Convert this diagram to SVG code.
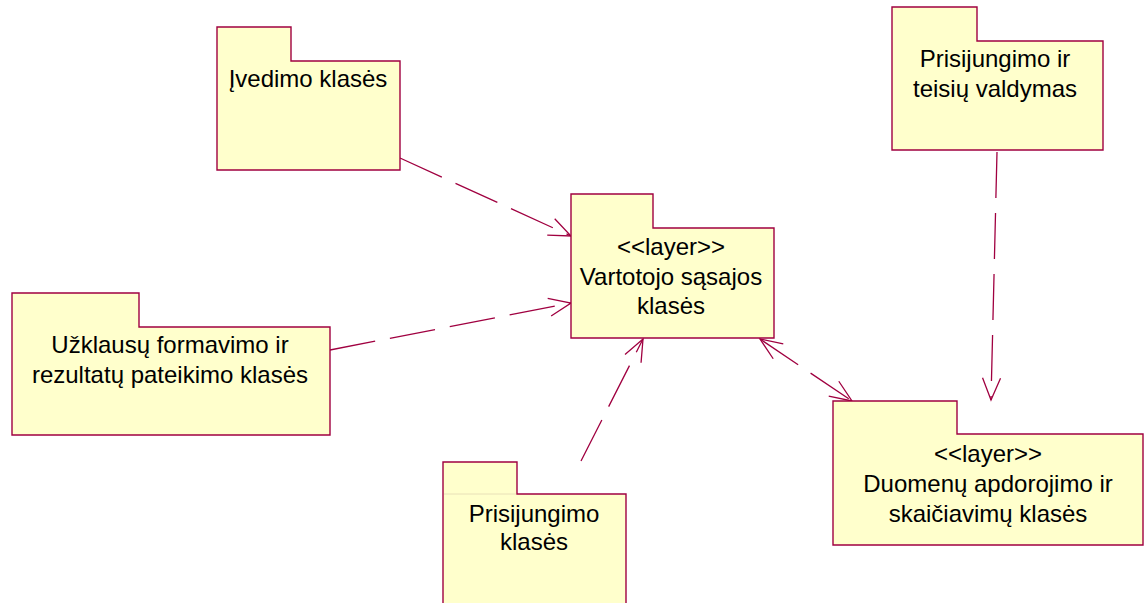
<svg xmlns="http://www.w3.org/2000/svg" width="1146" height="603" viewBox="0 0 1146 603">
  <style>
    .pkg { fill: #FFFFCC; stroke: #A00040; stroke-width: 1.4; }
    .tabline { stroke: #E8E0B8; stroke-width: 1; }
    .lbl { font-family: "Liberation Sans", Arial, sans-serif; font-size: 24px; fill: #000; text-anchor: middle; }
    .dep { fill: none; stroke: #A00040; stroke-width: 1.3; stroke-dasharray: 46 15; }
  </style>
  <defs>
    <marker id="open" viewBox="-24 -12 26 24" refX="0" refY="0" markerWidth="26" markerHeight="24" markerUnits="userSpaceOnUse" orient="auto-start-reverse">
      <path d="M-22,-9 L0,0 L-22,9" fill="none" stroke="#A00040" stroke-width="1.3" stroke-dasharray="none"/>
    </marker>
  </defs>

  <rect width="1146" height="603" fill="#FFFFFF"/>

  <!-- dependency connectors -->
  <g id="connectors">
    <line class="dep" x1="400" y1="158" x2="571" y2="236" marker-end="url(#open)"/>
    <line class="dep" x1="330" y1="350" x2="571" y2="303" marker-end="url(#open)"/>
    <line class="dep" x1="581" y1="461" x2="643" y2="339" marker-end="url(#open)"/>
    <line class="dep" x1="760" y1="339" x2="852" y2="401" marker-start="url(#open)" marker-end="url(#open)"/>
    <line class="dep" x1="997" y1="152" x2="991" y2="400" marker-end="url(#open)"/>
  </g>

  <!-- packages -->
  <g id="ivedimo">
    <path class="pkg" d="M217,27 H291 V61 H400 V170 H217 Z"/>
    <text class="lbl" x="308" y="87">Įvedimo klasės</text>
  </g>

  <g id="vartotojo">
    <path class="pkg" d="M571,194 H653 V228 H774 V338 H571 Z"/>
    <text class="lbl" x="671" y="255">&lt;&lt;layer&gt;&gt;</text>
    <text class="lbl" x="671" y="285">Vartotojo sąsajos</text>
    <text class="lbl" x="671" y="314">klasės</text>
  </g>

  <g id="duomenu">
    <path class="pkg" d="M833,401 H957 V434 H1143 V545 H833 Z"/>
    <text class="lbl" x="988" y="462">&lt;&lt;layer&gt;&gt;</text>
    <text class="lbl" x="988" y="492">Duomenų apdorojimo ir</text>
    <text class="lbl" x="988" y="522">skaičiavimų klasės</text>
  </g>

  <g id="uzklausu">
    <path class="pkg" d="M12,293 H139 V327 H330 V435 H12 Z"/>
    <text class="lbl" x="170" y="353">Užklausų formavimo ir</text>
    <text class="lbl" x="170" y="383">rezultatų pateikimo klasės</text>
  </g>

  <g id="prisijungimo">
    <path class="pkg" d="M443,462 H517 V494 H626 V610 H443 Z"/>
    <line class="tabline" x1="444" y1="494" x2="516" y2="494"/>
    <text class="lbl" x="534" y="522">Prisijungimo</text>
    <text class="lbl" x="534" y="550">klasės</text>
  </g>

  <g id="teisiu">
    <path class="pkg" d="M892,7 H977 V41 H1103 V150 H892 Z"/>
    <text class="lbl" x="995" y="67">Prisijungimo ir</text>
    <text class="lbl" x="995" y="97">teisių valdymas</text>
  </g>
</svg>
